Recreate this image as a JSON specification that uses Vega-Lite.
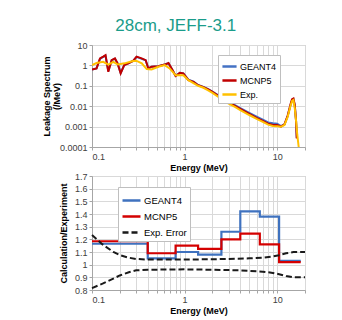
{
  "$schema": "https://vega.github.io/schema/vega-lite/v6.json",
  "padding": {"left": 41, "top": 16, "right": 5, "bottom": 2},
  "title": {"text": "28cm, JEFF-3.1", "color": "#1A9C8A", "fontSize": 17, "fontWeight": "normal", "font": "Liberation Sans", "anchor": "middle", "offset": 6},
  "config": {
    "font": "Liberation Sans",
    "view": {"stroke": "#BFBFBF"},
    "axis": {"labelFontSize": 9, "labelColor": "#404040", "titleFontSize": 9, "titleFontWeight": "bold", "titleColor": "#000000", "gridColor": "#D9D9D9", "domainColor": "#A6A6A6", "tickColor": "#A6A6A6", "tickSize": 3, "labelPadding": 2},
    "legend": {"labelFontSize": 9, "labelColor": "#000000", "fillColor": "#FFFFFF", "strokeColor": "#BFBFBF", "padding": 3, "rowPadding": 0, "symbolType": "stroke", "symbolStrokeWidth": 2.5, "labelOffset": 2}
  },
  "resolve": {"scale": {"color": "independent", "strokeDash": "independent"}, "legend": {"color": "independent", "strokeDash": "independent"}},
  "datasets": {
    "spectrum": [
      {"E": 0.1, "v": 0.63, "series": "GEANT4"}, {"E": 0.112, "v": 0.71, "series": "GEANT4"}, {"E": 0.122, "v": 2.1, "series": "GEANT4"}, {"E": 0.132, "v": 2.6, "series": "GEANT4"}, {"E": 0.14, "v": 3.0, "series": "GEANT4"}, {"E": 0.15, "v": 0.52, "series": "GEANT4"}, {"E": 0.163, "v": 1.8, "series": "GEANT4"}, {"E": 0.177, "v": 2.1, "series": "GEANT4"}, {"E": 0.189, "v": 1.26, "series": "GEANT4"}, {"E": 0.204, "v": 0.43, "series": "GEANT4"}, {"E": 0.223, "v": 1.04, "series": "GEANT4"}, {"E": 0.247, "v": 1.26, "series": "GEANT4"}, {"E": 0.28, "v": 1.7, "series": "GEANT4"}, {"E": 0.303, "v": 2.6, "series": "GEANT4"}, {"E": 0.344, "v": 2.1, "series": "GEANT4"}, {"E": 0.38, "v": 1.8, "series": "GEANT4"}, {"E": 0.406, "v": 0.72, "series": "GEANT4"}, {"E": 0.44, "v": 0.86, "series": "GEANT4"}, {"E": 0.52, "v": 0.9, "series": "GEANT4"}, {"E": 0.61, "v": 1.1, "series": "GEANT4"}, {"E": 0.67, "v": 1.28, "series": "GEANT4"}, {"E": 0.74, "v": 0.6, "series": "GEANT4"}, {"E": 0.8, "v": 0.31, "series": "GEANT4"}, {"E": 0.89, "v": 0.43, "series": "GEANT4"}, {"E": 0.97, "v": 0.4, "series": "GEANT4"}, {"E": 1.1, "v": 0.2, "series": "GEANT4"}, {"E": 1.25, "v": 0.16, "series": "GEANT4"}, {"E": 1.4, "v": 0.11, "series": "GEANT4"},
      {"E": 1.6, "v": 0.087, "series": "GEANT4"}, {"E": 1.8, "v": 0.068, "series": "GEANT4"}, {"E": 2.0, "v": 0.052, "series": "GEANT4"}, {"E": 2.5, "v": 0.027, "series": "GEANT4"}, {"E": 3.0, "v": 0.0165, "series": "GEANT4"}, {"E": 3.5, "v": 0.0112, "series": "GEANT4"}, {"E": 4.0, "v": 0.008, "series": "GEANT4"}, {"E": 5.0, "v": 0.0047, "series": "GEANT4"}, {"E": 6.0, "v": 0.0031, "series": "GEANT4"}, {"E": 7.0, "v": 0.0022, "series": "GEANT4"}, {"E": 8.0, "v": 0.0016, "series": "GEANT4"}, {"E": 9.0, "v": 0.00145, "series": "GEANT4"}, {"E": 10.0, "v": 0.0014, "series": "GEANT4"}, {"E": 11.0, "v": 0.00105, "series": "GEANT4"}, {"E": 12.0, "v": 0.0013, "series": "GEANT4"}, {"E": 13.0, "v": 0.0033, "series": "GEANT4"}, {"E": 14.0, "v": 0.012, "series": "GEANT4"}, {"E": 14.5, "v": 0.02, "series": "GEANT4"}, {"E": 15.0, "v": 0.022, "series": "GEANT4"}, {"E": 15.5, "v": 0.011, "series": "GEANT4"}, {"E": 16.0, "v": 0.002, "series": "GEANT4"}, {"E": 16.3, "v": 0.00028, "series": "GEANT4"},
      {"E": 0.1, "v": 0.63, "series": "MCNP5"}, {"E": 0.112, "v": 0.71, "series": "MCNP5"}, {"E": 0.122, "v": 2.2, "series": "MCNP5"}, {"E": 0.132, "v": 2.7, "series": "MCNP5"}, {"E": 0.14, "v": 3.2, "series": "MCNP5"}, {"E": 0.15, "v": 0.49, "series": "MCNP5"}, {"E": 0.163, "v": 1.8, "series": "MCNP5"}, {"E": 0.177, "v": 2.2, "series": "MCNP5"}, {"E": 0.189, "v": 1.26, "series": "MCNP5"}, {"E": 0.204, "v": 0.41, "series": "MCNP5"}, {"E": 0.223, "v": 1.04, "series": "MCNP5"}, {"E": 0.247, "v": 1.26, "series": "MCNP5"}, {"E": 0.28, "v": 1.7, "series": "MCNP5"}, {"E": 0.303, "v": 2.7, "series": "MCNP5"}, {"E": 0.344, "v": 2.2, "series": "MCNP5"}, {"E": 0.38, "v": 1.8, "series": "MCNP5"}, {"E": 0.406, "v": 0.71, "series": "MCNP5"}, {"E": 0.44, "v": 0.86, "series": "MCNP5"}, {"E": 0.52, "v": 0.9, "series": "MCNP5"}, {"E": 0.61, "v": 1.1, "series": "MCNP5"}, {"E": 0.67, "v": 1.3, "series": "MCNP5"}, {"E": 0.74, "v": 0.59, "series": "MCNP5"}, {"E": 0.8, "v": 0.3, "series": "MCNP5"}, {"E": 0.89, "v": 0.43, "series": "MCNP5"}, {"E": 0.97, "v": 0.4, "series": "MCNP5"}, {"E": 1.1, "v": 0.19, "series": "MCNP5"}, {"E": 1.25, "v": 0.155, "series": "MCNP5"}, {"E": 1.4, "v": 0.107, "series": "MCNP5"},
      {"E": 1.6, "v": 0.085, "series": "MCNP5"}, {"E": 1.8, "v": 0.066, "series": "MCNP5"}, {"E": 2.0, "v": 0.05, "series": "MCNP5"}, {"E": 2.5, "v": 0.026, "series": "MCNP5"}, {"E": 3.0, "v": 0.0155, "series": "MCNP5"}, {"E": 3.5, "v": 0.0105, "series": "MCNP5"}, {"E": 4.0, "v": 0.0074, "series": "MCNP5"}, {"E": 5.0, "v": 0.0042, "series": "MCNP5"}, {"E": 6.0, "v": 0.0027, "series": "MCNP5"}, {"E": 7.0, "v": 0.0019, "series": "MCNP5"}, {"E": 8.0, "v": 0.0014, "series": "MCNP5"}, {"E": 9.0, "v": 0.0012, "series": "MCNP5"}, {"E": 10.0, "v": 0.0012, "series": "MCNP5"}, {"E": 11.0, "v": 0.001, "series": "MCNP5"}, {"E": 12.0, "v": 0.0013, "series": "MCNP5"}, {"E": 13.0, "v": 0.0035, "series": "MCNP5"}, {"E": 14.0, "v": 0.013, "series": "MCNP5"}, {"E": 14.5, "v": 0.022, "series": "MCNP5"}, {"E": 15.0, "v": 0.024, "series": "MCNP5"}, {"E": 15.5, "v": 0.012, "series": "MCNP5"}, {"E": 16.0, "v": 0.002, "series": "MCNP5"}, {"E": 16.3, "v": 0.00026, "series": "MCNP5"},
      {"E": 0.1, "v": 1.04, "series": "Exp."}, {"E": 0.112, "v": 1.3, "series": "Exp."}, {"E": 0.132, "v": 1.5, "series": "Exp."}, {"E": 0.15, "v": 1.1, "series": "Exp."}, {"E": 0.17, "v": 1.5, "series": "Exp."}, {"E": 0.19, "v": 1.1, "series": "Exp."}, {"E": 0.225, "v": 1.26, "series": "Exp."}, {"E": 0.27, "v": 1.6, "series": "Exp."}, {"E": 0.3, "v": 1.7, "series": "Exp."}, {"E": 0.345, "v": 1.26, "series": "Exp."}, {"E": 0.39, "v": 0.66, "series": "Exp."}, {"E": 0.44, "v": 0.63, "series": "Exp."}, {"E": 0.52, "v": 0.86, "series": "Exp."}, {"E": 0.61, "v": 1.04, "series": "Exp."}, {"E": 0.69, "v": 0.71, "series": "Exp."}, {"E": 0.8, "v": 0.33, "series": "Exp."}, {"E": 0.97, "v": 0.33, "series": "Exp."}, {"E": 1.1, "v": 0.19, "series": "Exp."}, {"E": 1.4, "v": 0.1, "series": "Exp."},
      {"E": 1.6, "v": 0.08, "series": "Exp."}, {"E": 1.8, "v": 0.06, "series": "Exp."}, {"E": 2.0, "v": 0.045, "series": "Exp."}, {"E": 2.5, "v": 0.023, "series": "Exp."}, {"E": 3.0, "v": 0.0135, "series": "Exp."}, {"E": 3.5, "v": 0.0092, "series": "Exp."}, {"E": 4.0, "v": 0.0065, "series": "Exp."}, {"E": 5.0, "v": 0.0037, "series": "Exp."}, {"E": 6.0, "v": 0.0024, "series": "Exp."}, {"E": 7.0, "v": 0.0017, "series": "Exp."}, {"E": 8.0, "v": 0.00125, "series": "Exp."}, {"E": 9.0, "v": 0.00108, "series": "Exp."}, {"E": 10.0, "v": 0.00105, "series": "Exp."}, {"E": 11.0, "v": 0.00098, "series": "Exp."}, {"E": 12.0, "v": 0.0012, "series": "Exp."}, {"E": 13.0, "v": 0.003, "series": "Exp."}, {"E": 14.0, "v": 0.011, "series": "Exp."}, {"E": 14.5, "v": 0.018, "series": "Exp."}, {"E": 15.0, "v": 0.02, "series": "Exp."}, {"E": 15.5, "v": 0.008, "series": "Exp."}, {"E": 16.0, "v": 0.002, "series": "Exp."}, {"E": 16.5, "v": 0.0004, "series": "Exp."}, {"E": 17.1, "v": 0.0001, "series": "Exp."}
    ],
    "steps": [
      {"E": 0.1, "v": 1.165, "series": "GEANT4"}, {"E": 0.4, "v": 1.05, "series": "GEANT4"}, {"E": 0.8, "v": 1.1, "series": "GEANT4"}, {"E": 1.4, "v": 1.08, "series": "GEANT4"}, {"E": 2.5, "v": 1.26, "series": "GEANT4"}, {"E": 4.0, "v": 1.42, "series": "GEANT4"}, {"E": 6.5, "v": 1.38, "series": "GEANT4"}, {"E": 10.5, "v": 1.03, "series": "GEANT4"}, {"E": 18.0, "v": 1.03, "series": "GEANT4"},
      {"E": 0.1, "v": 1.185, "series": "MCNP5"}, {"E": 0.4, "v": 1.09, "series": "MCNP5"}, {"E": 0.8, "v": 1.15, "series": "MCNP5"}, {"E": 1.4, "v": 1.125, "series": "MCNP5"}, {"E": 2.5, "v": 1.2, "series": "MCNP5"}, {"E": 4.0, "v": 1.245, "series": "MCNP5"}, {"E": 6.5, "v": 1.16, "series": "MCNP5"}, {"E": 10.5, "v": 1.02, "series": "MCNP5"}, {"E": 18.0, "v": 1.02, "series": "MCNP5"}
    ],
    "errors": [
      {"E": 0.1, "v": 1.235, "bound": "upper", "series": "Exp. Error"}, {"E": 0.13, "v": 1.16, "bound": "upper", "series": "Exp. Error"}, {"E": 0.17, "v": 1.1, "bound": "upper", "series": "Exp. Error"}, {"E": 0.2, "v": 1.075, "bound": "upper", "series": "Exp. Error"}, {"E": 0.25, "v": 1.055, "bound": "upper", "series": "Exp. Error"}, {"E": 0.3, "v": 1.045, "bound": "upper", "series": "Exp. Error"}, {"E": 0.4, "v": 1.04, "bound": "upper", "series": "Exp. Error"}, {"E": 1.0, "v": 1.04, "bound": "upper", "series": "Exp. Error"}, {"E": 2.0, "v": 1.043, "bound": "upper", "series": "Exp. Error"}, {"E": 3.0, "v": 1.045, "bound": "upper", "series": "Exp. Error"}, {"E": 5.0, "v": 1.05, "bound": "upper", "series": "Exp. Error"}, {"E": 7.0, "v": 1.055, "bound": "upper", "series": "Exp. Error"}, {"E": 9.0, "v": 1.065, "bound": "upper", "series": "Exp. Error"}, {"E": 10.5, "v": 1.075, "bound": "upper", "series": "Exp. Error"}, {"E": 12.5, "v": 1.09, "bound": "upper", "series": "Exp. Error"}, {"E": 15.0, "v": 1.1, "bound": "upper", "series": "Exp. Error"}, {"E": 20.0, "v": 1.1, "bound": "upper", "series": "Exp. Error"},
      {"E": 0.1, "v": 0.815, "bound": "lower", "series": "Exp. Error"}, {"E": 0.13, "v": 0.85, "bound": "lower", "series": "Exp. Error"}, {"E": 0.17, "v": 0.89, "bound": "lower", "series": "Exp. Error"}, {"E": 0.2, "v": 0.915, "bound": "lower", "series": "Exp. Error"}, {"E": 0.25, "v": 0.94, "bound": "lower", "series": "Exp. Error"}, {"E": 0.3, "v": 0.955, "bound": "lower", "series": "Exp. Error"}, {"E": 0.4, "v": 0.96, "bound": "lower", "series": "Exp. Error"}, {"E": 1.0, "v": 0.963, "bound": "lower", "series": "Exp. Error"}, {"E": 2.0, "v": 0.96, "bound": "lower", "series": "Exp. Error"}, {"E": 4.0, "v": 0.955, "bound": "lower", "series": "Exp. Error"}, {"E": 7.0, "v": 0.945, "bound": "lower", "series": "Exp. Error"}, {"E": 9.0, "v": 0.935, "bound": "lower", "series": "Exp. Error"}, {"E": 10.5, "v": 0.925, "bound": "lower", "series": "Exp. Error"}, {"E": 12.5, "v": 0.91, "bound": "lower", "series": "Exp. Error"}, {"E": 15.0, "v": 0.9, "bound": "lower", "series": "Exp. Error"}, {"E": 20.0, "v": 0.9, "bound": "lower", "series": "Exp. Error"}
    ]
  },
  "vconcat": [
    {
      "width": 213,
      "height": 102,
      "data": {"name": "spectrum"},
      "mark": {"type": "line", "strokeWidth": 2, "clip": true},
      "encoding": {
        "x": {"field": "E", "type": "quantitative", "scale": {"type": "log", "domain": [0.1, 20]},
          "axis": {"title": "Energy (MeV)", "values": [0.1, 0.2, 0.3, 0.4, 0.5, 0.6, 0.7, 0.8, 0.9, 1, 2, 3, 4, 5, 6, 7, 8, 9, 10, 20], "labelExpr": "indexof([0.1, 1, 10], datum.value) >= 0 ? datum.label : ''", "format": "~g", "labelOverlap": false, "titlePadding": 2}},
        "y": {"field": "v", "type": "quantitative", "scale": {"type": "log", "domain": [0.0001, 10]},
          "axis": {"title": ["Leakage Spectrum", "(/MeV)"], "values": [0.0001, 0.001, 0.01, 0.1, 1, 10], "format": "~g", "labelOverlap": false, "titlePadding": -2, "titleLineHeight": 10}},
        "color": {"field": "series", "type": "nominal", "scale": {"domain": ["GEANT4", "MCNP5", "Exp."], "range": ["#4472C4", "#C00000", "#FFC000"]},
          "legend": {"title": null, "orient": "none", "legendX": 126, "legendY": 10, "symbolSize": 200}}
      }
    },
    {
      "width": 213,
      "height": 114,
      "encoding": {
        "x": {"field": "E", "type": "quantitative", "scale": {"type": "log", "domain": [0.1, 20]},
          "axis": {"title": "Energy (MeV)", "values": [0.1, 0.2, 0.3, 0.4, 0.5, 0.6, 0.7, 0.8, 0.9, 1, 2, 3, 4, 5, 6, 7, 8, 9, 10, 20], "labelExpr": "indexof([0.1, 1, 10], datum.value) >= 0 ? datum.label : ''", "format": "~g", "labelOverlap": false, "titlePadding": 2}},
        "y": {"field": "v", "type": "quantitative", "scale": {"domain": [0.8, 1.7], "nice": false},
          "axis": {"title": "Calculation/Experiment", "values": [0.8, 0.9, 1, 1.1, 1.2, 1.3, 1.4, 1.5, 1.6, 1.7], "format": "~g", "labelOverlap": false, "titlePadding": 6}},
        "color": {"field": "series", "type": "nominal", "scale": {"domain": ["GEANT4", "MCNP5", "Exp. Error"], "range": ["#3F72BF", "#D40000", "#1A1A1A"]},
          "legend": {"title": null, "orient": "none", "legendX": 26, "legendY": 11, "symbolSize": 324, "labelFontSize": 9.5}},
        "strokeDash": {"field": "series", "type": "nominal", "scale": {"domain": ["GEANT4", "MCNP5", "Exp. Error"], "range": [[1, 0], [1, 0], [6, 3]]},
          "legend": {"title": null, "orient": "none", "legendX": 26, "legendY": 11, "symbolSize": 324, "labelFontSize": 9.5}}
      },
      "layer": [
        {
          "data": {"name": "steps"},
          "mark": {"type": "line", "interpolate": "step-after", "strokeWidth": 2.2}
        },
        {
          "data": {"name": "errors"},
          "mark": {"type": "line", "strokeWidth": 2},
          "encoding": {"detail": {"field": "bound"}}
        }
      ]
    }
  ],
  "spacing": -2
}
